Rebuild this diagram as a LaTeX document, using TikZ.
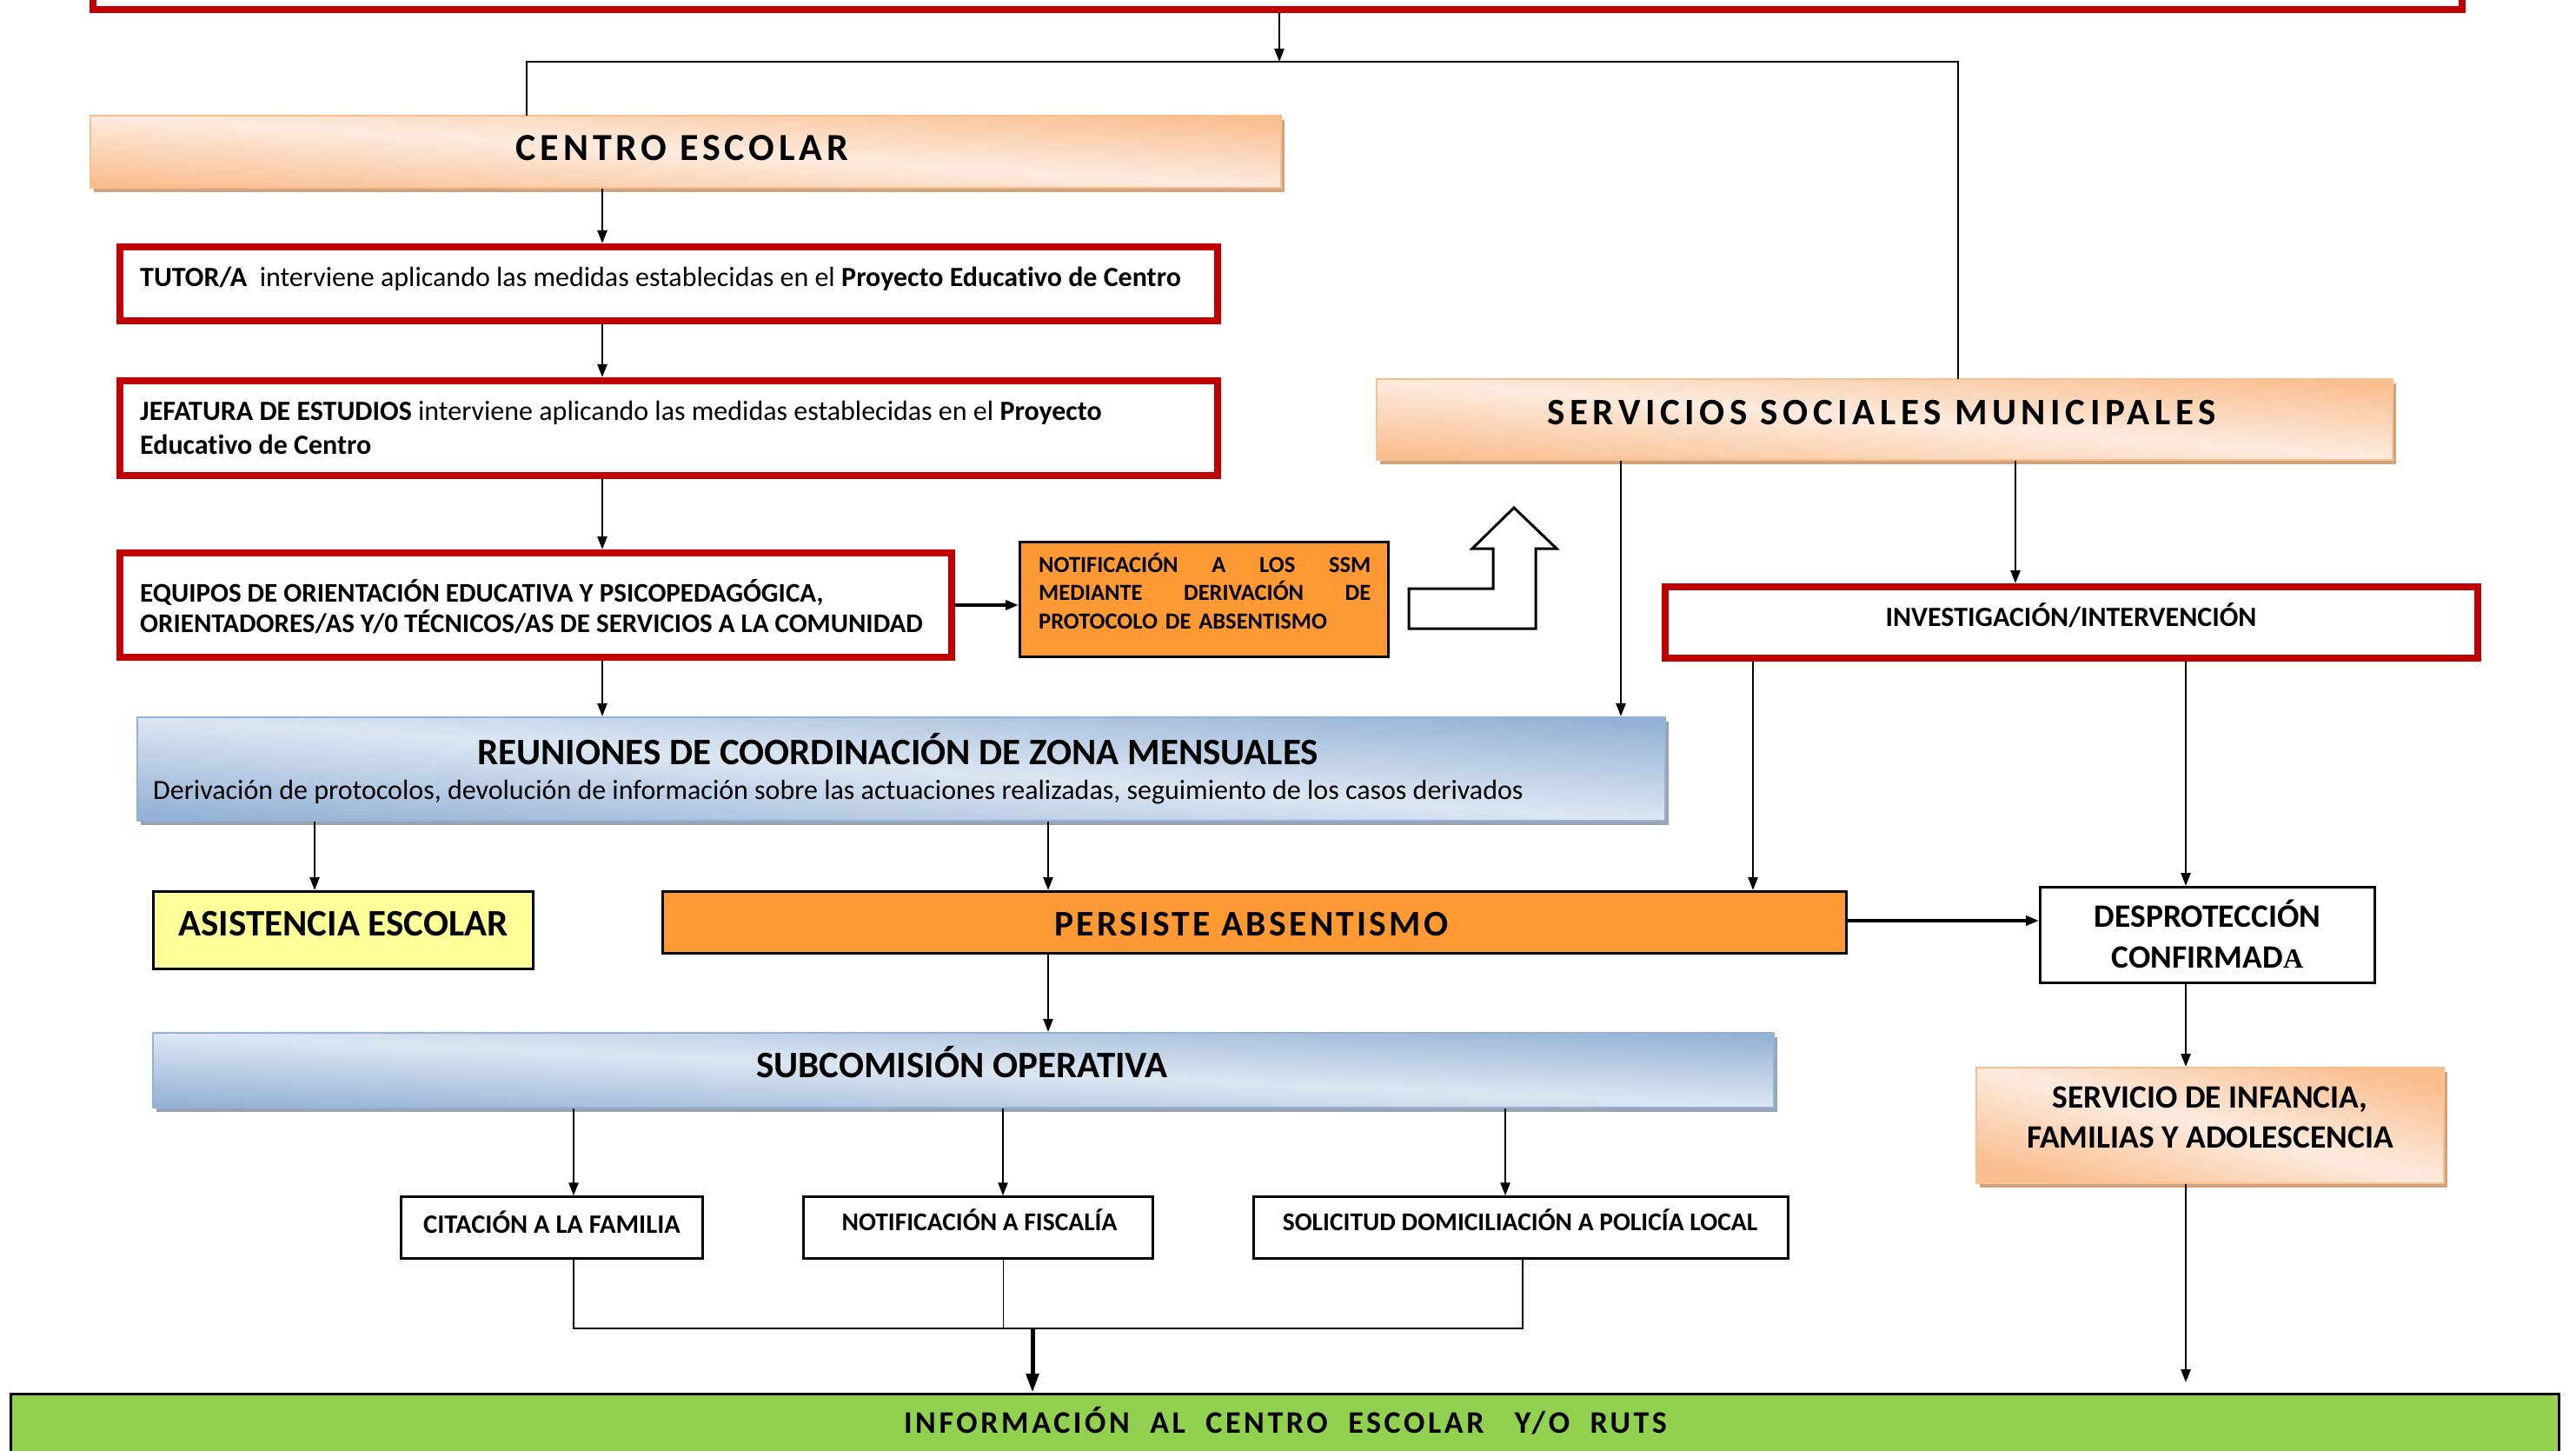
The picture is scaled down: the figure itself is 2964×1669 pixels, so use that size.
\documentclass[tikz,border=0pt]{standalone}
\usepackage{fontspec}
\setmainfont{Carlito}[Ligatures=NoCommon]
\newfontfamily\serifA{Liberation Serif}
\usetikzlibrary{arrows.meta,shadows}
\definecolor{redb}{HTML}{C00000}
\definecolor{orangeF}{HTML}{FF9933}
\definecolor{peachD}{HTML}{F9BE8E}
\definecolor{peachL}{HTML}{FDEBDF}
\definecolor{peachS}{HTML}{D0A37F}
\definecolor{blueD}{HTML}{94B2D6}
\definecolor{blueL}{HTML}{DCE6F2}
\definecolor{blueS}{HTML}{98A4B4}
\definecolor{greenF}{HTML}{92D050}
\definecolor{yellowF}{HTML}{FFFF99}
\tikzset{
  redbox/.style={rectangle, draw=redb, line width=8pt, fill=white, inner sep=0pt},
  blkbox/.style={rectangle, draw=black, line width=3pt, inner sep=0pt},
  thinbox/.style={rectangle, draw=black, line width=2.5pt, fill=white, inner sep=0pt},
  peachbox/.style={rectangle, draw=peachD, line width=2pt, inner sep=0pt,
     top color=peachD, bottom color=peachD, middle color=peachL, shading angle=#1,
     general shadow={fill=peachS, shadow xshift=4pt, shadow yshift=-5pt}},
  bluebox/.style={rectangle, draw=blueD, line width=2pt, inner sep=0pt,
     top color=blueD, bottom color=blueD, middle color=blueL, shading angle=#1,
     general shadow={fill=blueS, shadow xshift=4pt, shadow yshift=-5pt}},
  txt/.style={inner sep=0pt, anchor=base},
  txtl/.style={inner sep=0pt, anchor=base west},
  ln/.style={draw=black, line width=2.5pt},
  arr/.style={ln, -{Triangle[length=15pt,width=11pt]}},
}
\newcommand{\fsz}[2]{\fontsize{#1}{#2}\selectfont}
\begin{document}
\begin{tikzpicture}[x=1pt,y=-1pt]
\useasboundingbox (0,0) rectangle (2964,1669);
% ---------- boxes ----------
\node[redbox, minimum width=2726, minimum height=111] (top) at (1470,-44.5) {};
\node[peachbox=-3.5, minimum width=1370, minimum height=83] (centro) at (789,174.5) {};
\node[redbox, minimum width=1263, minimum height=85] (tutor) at (769.5,326.5) {};
\node[redbox, minimum width=1263, minimum height=109] (jef) at (769.5,492.5) {};
\node[redbox, minimum width=957, minimum height=120] (equip) at (616.5,696) {};
\node[blkbox, fill=orangeF, minimum width=424, minimum height=132] (notif) at (1385.5,689.5) {};
\node[peachbox=-4.5, minimum width=1169, minimum height=93] (ssm) at (2168.5,482.5) {};
\node[redbox, minimum width=935, minimum height=82] (invest) at (2383.5,716) {};
\node[bluebox=-3.9, minimum width=1758, minimum height=119] (reun) at (1037,884.5) {};
\node[blkbox, fill=yellowF, minimum width=437, minimum height=89] (asist) at (395,1070) {};
\node[blkbox, fill=orangeF, minimum width=1362, minimum height=71] (pers) at (1443.5,1061) {};
\node[blkbox, fill=white, minimum width=385, minimum height=110] (desp) at (2540,1075.5) {};
\node[peachbox=-13.9, minimum width=538, minimum height=133] (infan) at (2543,1294.5) {};
\node[bluebox=-2.6, minimum width=1865, minimum height=86] (subc) at (1108.5,1231) {};
\node[thinbox, minimum width=347, minimum height=71] (citac) at (635,1412) {};
\node[thinbox, minimum width=402, minimum height=71] (fisc) at (1125.5,1412) {};
\node[thinbox, minimum width=615, minimum height=71] (solic) at (1750,1412) {};
\node[blkbox, fill=greenF, minimum width=2932, minimum height=116.5] (info) at (1478.5,1661.75) {};
% block arrow
\draw[line width=3pt, fill=white] (1621,677) -- (1718,677) -- (1718,631) -- (1694,631) -- (1742,584)
  -- (1791,631) -- (1767,631) -- (1767,723) -- (1621,723) -- cycle;
% ---------- texts ----------
\node[txt, font=\fsz{44}{53}\bfseries\addfontfeature{LetterSpace=11}] (centroT) at (785,185) {CENTRO ESCOLAR};
\node[txtl, font=\fsz{32}{40}] (tutorT) at (161,330) {\textbf{TUTOR/A}\ \ interviene aplicando las medidas establecidas en el \textbf{Proyecto Educativo de Centro}};
\node[txtl, font=\fsz{32}{39}] (jefT1) at (161,483) {\textbf{JEFATURA DE ESTUDIOS} interviene aplicando las medidas establecidas en el \textbf{Proyecto}};
\node[txtl, font=\fsz{32}{39}\bfseries] (jefT2) at (161,522) {Educativo de Centro};
\node[txtl, font=\fsz{31}{33}\bfseries] (equipT1) at (161,692) {EQUIPOS DE ORIENTACIÓN EDUCATIVA Y PSICOPEDAGÓGICA,};
\node[txtl, font=\fsz{31}{33}\bfseries] (equipT2) at (161,727) {ORIENTADORES/AS Y/0 TÉCNICOS/AS DE SERVICIOS A LA COMUNIDAD};
\node[txtl, font=\fsz{26.5}{32.5}\bfseries, text width=382, align=left] (notifT) at (1195,658)
  {NOTIFICACIÓN\hfill A\hfill LOS\hfill SSM\\MEDIANTE\hfill DERIVACIÓN\hfill DE\\PROTOCOLO DE ABSENTISMO};
\node[txt, font=\fsz{43}{50}\bfseries\addfontfeature{LetterSpace=13}] (ssmT) at (2165,488) {SERVICIOS SOCIALES MUNICIPALES};
\node[txt, font=\fsz{32}{38}\bfseries] (investT) at (2383,720) {INVESTIGACIÓN/INTERVENCIÓN};
\node[txt, font=\fsz{43}{46}\bfseries] (reunT) at (1033,879) {REUNIONES DE COORDINACIÓN DE ZONA MENSUALES};
\node[txtl, font=\fsz{32}{34}] (reunS) at (176,919) {Derivación de protocolos, devolución de información sobre las actuaciones realizadas, seguimiento de los casos derivados};
\node[txt, font=\fsz{43}{48}\bfseries] (asistT) at (395,1076) {ASISTENCIA ESCOLAR};
\node[txt, font=\fsz{41.5}{48}\bfseries\addfontfeature{LetterSpace=8}] (persT) at (1440,1076) {PERSISTE ABSENTISMO};
\node[txt, font=\fsz{37.5}{42}\bfseries] (despT1) at (2540,1066) {DESPROTECCIÓN};
\node[txt, font=\fsz{37.5}{42}\bfseries] (despT2) at (2540,1113) {CONFIRMAD{\serifA\fontsize{32}{36}\selectfont A}};
\node[txt, font=\fsz{37.5}{42}\bfseries] (infanT1) at (2543,1274) {SERVICIO DE INFANCIA,};
\node[txt, font=\fsz{37.5}{42}\bfseries] (infanT2) at (2543,1320) {FAMILIAS Y ADOLESCENCIA};
\node[txt, font=\fsz{43}{48}\bfseries] (subcT) at (1107,1239) {SUBCOMISIÓN OPERATIVA};
\node[txt, font=\fsz{30.5}{33}\bfseries] (citacT) at (635,1418) {CITACIÓN A LA FAMILIA};
\node[txt, font=\fsz{29.5}{33}\bfseries] (fiscT) at (1127,1415) {NOTIFICACIÓN A FISCALÍA};
\node[txt, font=\fsz{29.5}{33}\bfseries] (solicT) at (1749,1415) {SOLICITUD DOMICILIACIÓN A POLICÍA LOCAL};
\node[txt, font=\fsz{36}{44}\bfseries\addfontfeature{LetterSpace=10}] (infoT) at (1479,1648) {INFORMACIÓN\ \ AL\ \ CENTRO\ \ ESCOLAR\ \ \ Y/O\ \ RUTS};
% ---------- columns / junctions ----------
\coordinate (j1) at (1472,71);
\coordinate (jl) at (606,71);
\coordinate (jr) at (2253,71);
\coordinate (c1) at (693,0);
\coordinate (c2) at (1865,0);
\coordinate (c3) at (2319,0);
\coordinate (c4) at (2017,0);
\coordinate (c5) at (2515,0);
\coordinate (c6) at (362,0);
\coordinate (c7) at (1206,0);
\coordinate (c8) at (660,0);
\coordinate (c9) at (1154,0);
\coordinate (c10) at (1732,0);
\coordinate (bl) at (660,1528);
\coordinate (br) at (1752,1528);
\coordinate (bm) at (1188,1528);
% ---------- connectors ----------
\draw[arr] (j1 |- top.south) -- (j1);
\draw[ln, line cap=rect] (jl |- centro.north) -- (jl) -- (jr) -- (jr |- ssm.north);
\draw[arr] (c1 |- centro.south) -- (c1 |- tutor.north);
\draw[arr] (c1 |- tutor.south) -- (c1 |- jef.north);
\draw[arr] (c1 |- jef.south) -- (c1 |- equip.north);
\draw[arr] (c1 |- equip.south) -- (c1 |- reun.north);
\draw[arr, line width=3.5pt] (equip.east) -- (equip.east -| notif.west);
\draw[arr] (c2 |- ssm.south) -- (c2 |- reun.north);
\draw[arr] (c3 |- ssm.south) -- (c3 |- invest.north);
\draw[arr] (c4 |- invest.south) -- (c4 |- pers.north);
\draw[arr] (c5 |- invest.south) -- (c5 |- desp.north);
\draw[arr] (c6 |- reun.south) -- (c6 |- asist.north);
\draw[arr] (c7 |- reun.south) -- (c7 |- pers.north);
\draw[arr, line width=3.5pt] (pers.east |- 0,1059) -- (desp.west |- 0,1059);
\draw[arr] (c7 |- pers.south) -- (c7 |- subc.north);
\draw[arr] (c5 |- desp.south) -- (c5 |- infan.north);
\draw[arr, shorten >=12pt] (c5 |- infan.south) -- (c5 |- info.north);
\draw[arr] (c8 |- subc.south) -- (c8 |- citac.north);
\draw[arr] (c9 |- subc.south) -- (c9 |- fisc.north);
\draw[arr] (c10 |- subc.south) -- (c10 |- solic.north);
\draw[ln] (bl |- citac.south) -- (bl) -- (br) -- (br |- solic.south);
\draw[line width=1pt] (c9 |- fisc.south) -- (c9 |- bl);
\draw[line width=5pt, -{Triangle[length=22pt,width=14pt]}] (bm) -- (bm |- info.north);
\end{tikzpicture}
\end{document}
